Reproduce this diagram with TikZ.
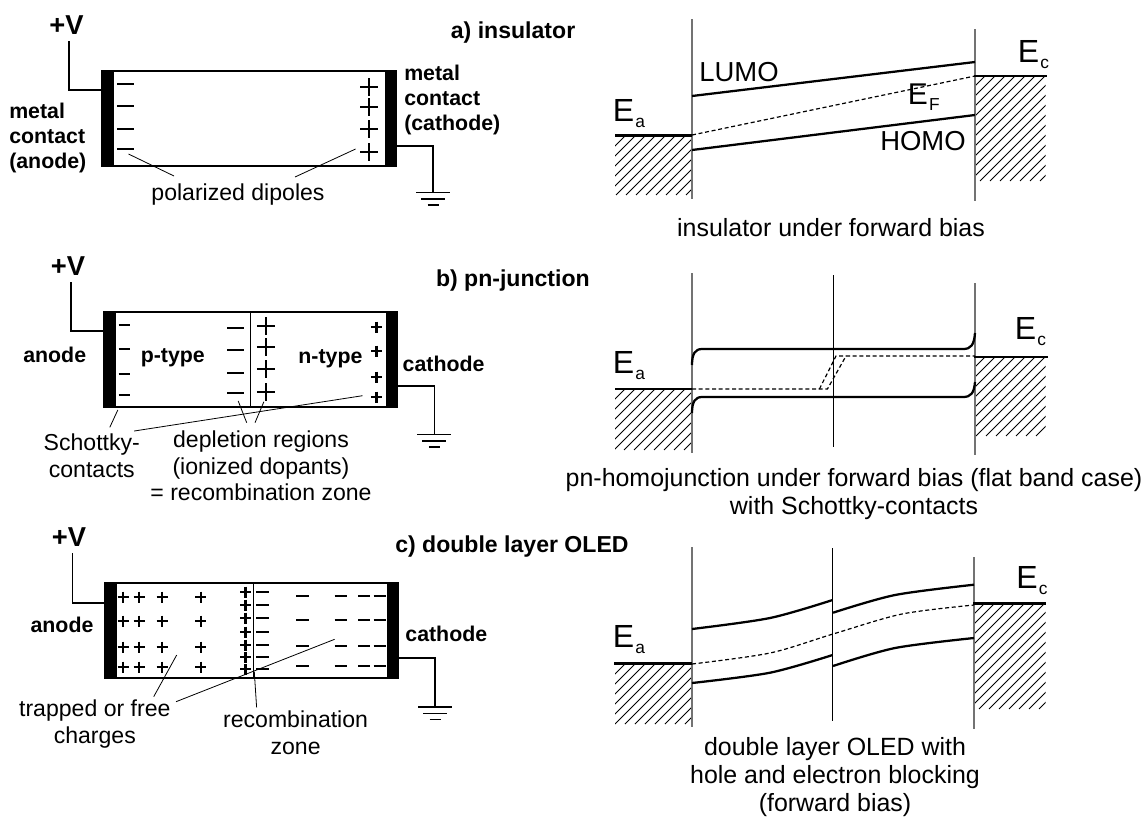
\documentclass[tikz,border=0pt]{standalone}
\usepackage{fontspec}
\setmainfont{Liberation Sans}

\tikzset{
	wire/.style={line width=1.2pt, black},
	frame/.style={line width=1.1pt, black},
	contact/.style={fill=black, draw=black, line width=0.3pt},
	leader/.style={line width=0.6pt, black},
	charge/.style={line width=1.5pt, black},
	hatch/.style={line width=0.6pt, black},
	band/.style={line width=1.7pt, black},
	fermi/.style={line width=0.9pt, black, dash pattern=on 3pt off 2pt},
	level/.style={line width=2pt, black},
	wall/.style={line width=1.3pt, black!55},
	junction/.style={line width=0.7pt, black},
	boldlabel/.style={inner sep=0pt, align=left, font=\fontsize{16}{18.75}\selectfont\bfseries},
	heading/.style={inner sep=0pt, font=\fontsize{17.3}{20}\selectfont\bfseries},
	voltage/.style={inner sep=0pt, font=\fontsize{20.5}{24}\selectfont\bfseries},
	note/.style={inner sep=0pt, align=center, font=\fontsize{17.3}{20}\selectfont},
	caption/.style={inner sep=0pt, align=center, font=\fontsize{18.7}{21}\selectfont},
	bandname/.style={inner sep=0pt, font=\fontsize{20.6}{24}\selectfont},
	levelname/.style={inner sep=0pt, anchor=base west, font=\fontsize{24}{28}\selectfont},
}

\newcommand{\plussign}[3]{\draw[charge] (#1-#3,#2) -- (#1+#3,#2) (#1,#2-#3) -- (#1,#2+#3);}
\newcommand{\minussign}[3]{\draw[charge] (#1,#3) -- (#2,#3);}
\newcommand{\groundsym}[2]{
	\draw[wire] (#1-17,#2) -- (#1+17,#2);
	\draw[wire] (#1-12,#2+6.5) -- (#1+12,#2+6.5);
	\draw[wire] (#1-5.5,#2+12.5) -- (#1+5.5,#2+12.5);
}
\newcommand{\hatchblock}[4]{
	\begin{scope}
		\clip (#1,#2) rectangle (#3,#4);
		\foreach \o in {0,10,...,200} {\draw[hatch] (#1-#4+#2+\o,#4) -- (#1+\o,#2);}
	\end{scope}
}
\newcommand{\lev}[1]{E\kern1pt\raisebox{-4.5pt}{\fontsize{13}{13}\selectfont #1}}

\begin{document}
\begin{tikzpicture}[x=0.75pt,y=-0.75pt]

	\useasboundingbox (0,0) rectangle (1144,818);

	% a) insulator, device
	\draw[frame] (102,71) rectangle (396,166);
	\fill[contact] (102,71) rectangle (113,166);
	\fill[contact] (385,71) rectangle (396,166);
	\node[voltage] (plusa) at (66.5,25) {+V};
	\coordinate (wirea) at (69,41);
	\coordinate (anodea) at (102,90);
	\coordinate (cathodea) at (396,146);
	\coordinate (grounda) at (433,192.5);
	\draw[wire] (wirea) |- (anodea);
	\draw[wire] (cathodea) -| (grounda);
	\groundsym{433}{192.5}
	\foreach \y in {84,106,129,149} {\minussign{117}{134}{\y}}
	\foreach \y in {87,107,129,152} {\plussign{369}{\y}{9}}
	\node[boldlabel, anchor=west] (metala) at (9,138) {metal\\contact\\(anode)};
	\node[boldlabel, anchor=west] (metalc) at (404,100) {metal\\contact\\(cathode)};
	\node[heading, anchor=east] (heada) at (575.5,33) {a) insulator};
	\node[note] (dipoles) at (238,195) {polarized dipoles};
	\coordinate (dipm) at (128.5,154);
	\coordinate (dipmend) at (174,176);
	\coordinate (dipp) at (355.6,149);
	\coordinate (dippend) at (295,177);
	\draw[leader] (dipm) -- (dipmend);
	\draw[leader] (dipp) -- (dippend);

	% b) pn-junction, device
	\draw[frame] (104,312) rectangle (397.5,407);
	\fill[contact] (104,312) rectangle (115,407);
	\fill[contact] (386.5,312) rectangle (397.5,407);
	\draw[junction] (250.5,312) -- (250.5,407);
	\node[voltage] (plusb) at (68,266) {+V};
	\coordinate (wireb) at (71,282);
	\coordinate (anodeb) at (104,331);
	\coordinate (cathodeb) at (397.5,386);
	\coordinate (groundb) at (434.4,434.5);
	\draw[wire] (wireb) |- (anodeb);
	\draw[wire] (cathodeb) -| (groundb);
	\groundsym{434.4}{434.5}
	\foreach \y in {327.7,350,372.7,393.3} {\minussign{227}{244}{\y}}
	\foreach \y in {326,347,369,392} {\plussign{265.8}{\y}{9}}
	\begin{scope}[charge/.style={line width=1.9pt, black}]
		\foreach \y in {325,349,374,395} {\minussign{118.5}{130}{\y}}
		\foreach \y in {327,351,377,397} {\plussign{376.7}{\y}{5.5}}
	\end{scope}
	\node[boldlabel] (anb) at (54.7,355) {anode};
	\node[boldlabel] (catb) at (443.6,364) {cathode};
	\node[boldlabel] (ptype) at (172.8,358) {p-type};
	\node[boldlabel] (ntype) at (330.4,359) {n-type};
	\node[heading, anchor=east] (headb) at (590,281) {b) pn-junction};
	\node[note] (schottky) at (91.8,455.5) {Schottky-\\contacts};
	\node[note] (depletion) at (261,466) {depletion regions\\(ionized dopants)\\= recombination zone};
	\coordinate (sa) at (117.8,410);
	\coordinate (sb) at (109.8,427.3);
	\coordinate (sc) at (362.5,395.7);
	\coordinate (sd) at (134.2,431);
	\coordinate (da) at (238.2,401);
	\coordinate (db) at (246.7,422.7);
	\coordinate (dc) at (263.9,401.7);
	\coordinate (dd) at (255,422.7);
	\draw[leader] (sa) -- (sb);
	\draw[leader] (sc) -- (sd);
	\draw[leader] (da) -- (db);
	\draw[leader] (dc) -- (dd);

	% c) double layer OLED, device
	\draw[frame] (104.8,583) rectangle (398,678);
	\fill[contact] (104.8,583) rectangle (116,678);
	\fill[contact] (387,583) rectangle (398,678);
	\draw[junction] (253.5,583) -- (253.5,678);
	\node[voltage] (plusc) at (69,537) {+V};
	\coordinate (wirec) at (72.3,553);
	\coordinate (anodec) at (104.8,603);
	\coordinate (cathodec) at (398,658);
	\coordinate (groundc) at (435.2,707);
	\draw[wire] (wirec) |- (anodec);
	\draw[wire] (cathodec) -| (groundc);
	\groundsym{435.2}{707}
	\begin{scope}[charge/.style={line width=1.9pt, black}]
		\foreach \x in {123,139,162,200.8} {
			\foreach \y in {597,621,647,667} {\plussign{\x}{\y}{5.5}}
		}
		\foreach \y in {592,605,618,632,645,657,669} {
			\plussign{245.5}{\y}{5.5}
			\minussign{256}{268.5}{\y}
		}
		\foreach \y in {596,620,646,666} {
			\minussign{296.4}{308.6}{\y}
			\minussign{334.6}{346.8}{\y}
			\minussign{358.3}{369.8}{\y}
			\minussign{373.6}{385.8}{\y}
		}
	\end{scope}
	\node[boldlabel] (anc) at (62,625) {anode};
	\node[boldlabel] (catc) at (446.3,634) {cathode};
	\node[heading, anchor=west] (headc) at (395,547) {c) double layer OLED};
	\node[note] (trapped) at (94.8,724) {trapped or free\\charges};
	\node[note] (recomb) at (295.6,732.5) {recombination\\zone};
	\coordinate (ta) at (176.7,655);
	\coordinate (tb) at (153.7,696.7);
	\coordinate (tc) at (334.6,639.3);
	\coordinate (td) at (176,701.7);
	\coordinate (ra) at (254.3,671.7);
	\coordinate (rb) at (256.6,707.3);
	\draw[leader] (ta) -- (tb);
	\draw[leader] (tc) -- (td);
	\draw[leader] (ra) -- (rb);

	% a) insulator, bands
	\hatchblock{615}{136}{692}{195}
	\hatchblock{975}{76}{1045.5}{181}
	\draw[wall] (692,19) -- (692,199);
	\draw[wall] (975,29) -- (975,201);
	\draw[level] (615,135.5) -- (692,135.5);
	\draw[level] (974,76) -- (1047,76);
	\draw[band] (692,96) -- (975,62);
	\draw[fermi] (692,135) -- (975,76);
	\draw[band] (692,150) -- (975,115);
	\node[bandname] (lumo) at (739,72) {LUMO};
	\node[bandname] (homo) at (923,141) {HOMO};
	\node[levelname, font=\fontsize{22.5}{26}\selectfont] (ef) at (907.5,104) {\lev{F}};
	\node[levelname] (eaa) at (612.5,121) {\lev{a}};
	\node[levelname] (eca) at (1017.5,62) {\lev{c}};
	\node[caption] (capa) at (831,228) {insulator under forward bias};

	% b) pn-junction, bands
	\hatchblock{615}{389}{692}{450}
	\hatchblock{975}{357}{1045.5}{436}
	\draw[wall] (692,273) -- (692,453);
	\draw[junction] (833.3,275) -- (833.3,447);
	\draw[wall] (975,283) -- (975,455);
	\draw[level] (615,389) -- (692,389);
	\draw[level] (974,357) -- (1048,357);
	\draw[band] (692,365) .. controls (692,354) and (695,349) .. (702,349) -- (963,349) .. controls (971,349) and (974,345) .. (975,333);
	\draw[band] (692,413) .. controls (692,402) and (695,397) .. (702,397) -- (963,397) .. controls (971,397) and (974,393) .. (975,382);
	\draw[fermi] (692,389) -- (827.4,389) -- (846,356) -- (975,356);
	\draw[fermi] (819.4,389) -- (836,356) -- (846,356);
	\node[levelname] (eab) at (612.5,373.5) {\lev{a}};
	\node[levelname] (ecb) at (1014.5,339) {\lev{c}};
	\node[caption] (capb) at (854,494) {pn-homojunction under forward bias (flat band case)\\with Schottky-contacts};

	% c) double layer OLED, bands
	\hatchblock{615}{664}{692}{724}
	\hatchblock{975}{603}{1045.5}{709}
	\draw[wall] (692,547) -- (692,727);
	\draw[junction] (832.6,548) -- (832.6,721);
	\draw[wall] (974,557) -- (974,729);
	\draw[level] (614,663.7) -- (692,663.7);
	\draw[level] (973,603.3) -- (1046,603.3);
	\draw[band, smooth] plot coordinates {(692,629) (770,618) (832.6,600)};
	\draw[band, smooth] plot coordinates {(833,612.7) (895,595) (974,584.7)};
	\draw[fermi, smooth] plot coordinates {(692,664) (770,653) (833,634) (902,614) (974,605)};
	\draw[band, smooth] plot coordinates {(692,683) (770,672.7) (832.6,655)};
	\draw[band, smooth] plot coordinates {(833,666) (895,648) (974,638)};
	\node[levelname] (eac) at (612.5,647) {\lev{a}};
	\node[levelname] (ecc) at (1016,588) {\lev{c}};
	\node[caption] (capc) at (835,777.5) {double layer OLED with\\hole and electron blocking\\(forward bias)};

\end{tikzpicture}
\end{document}
